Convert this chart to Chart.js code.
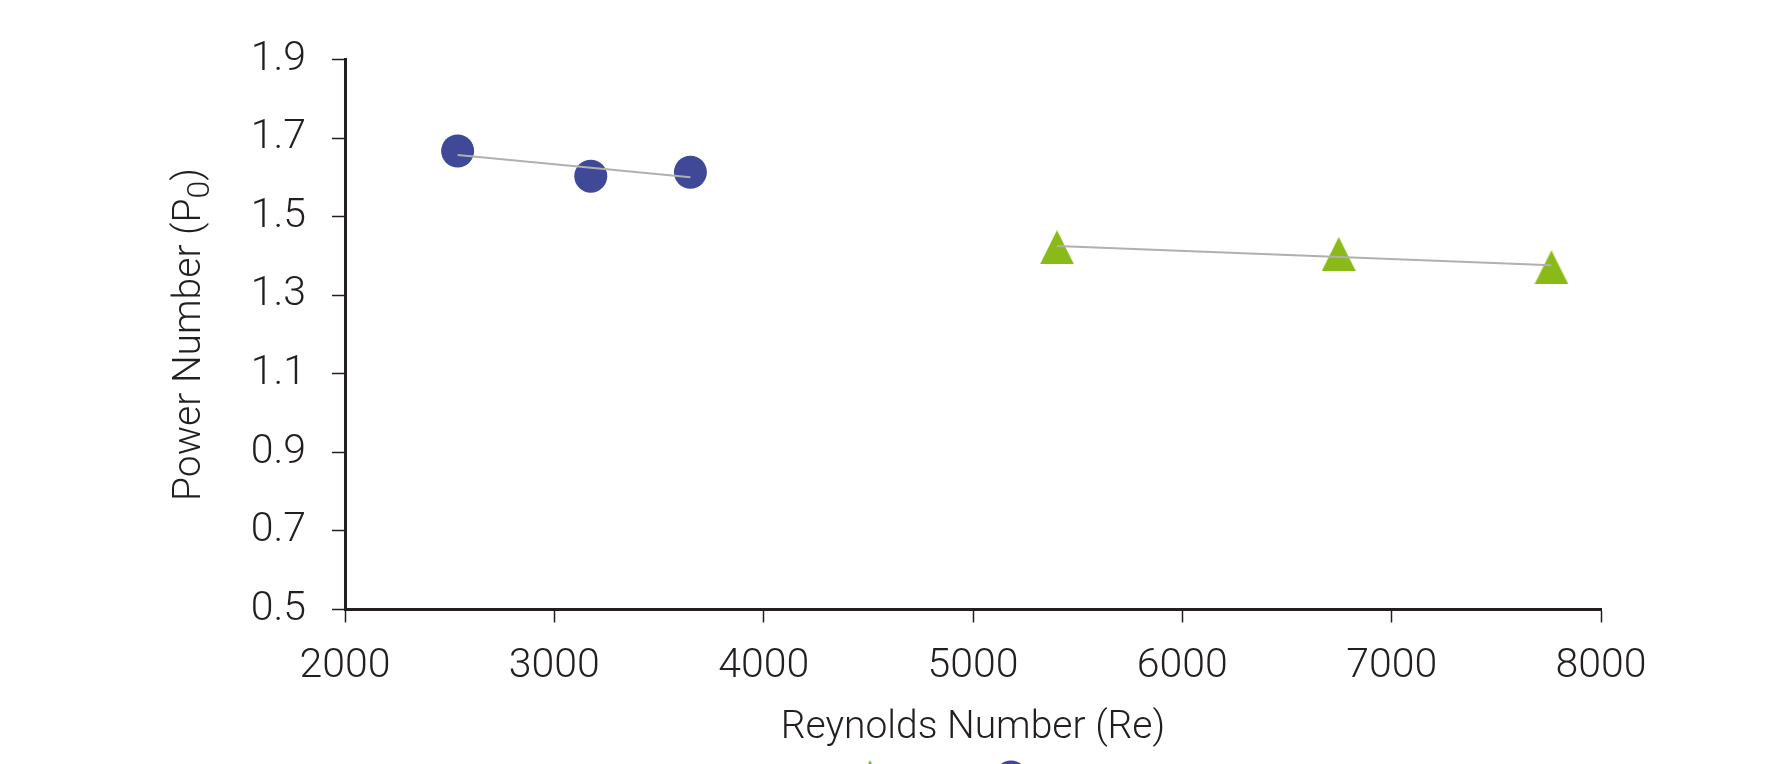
<!DOCTYPE html>
<html>
<head>
<meta charset="utf-8">
<title>Power Number vs Reynolds Number</title>
<script src="https://cdn.jsdelivr.net/npm/chart.js@4/dist/chart.umd.min.js"></script>
<style>
  html, body { margin: 0; padding: 0; background: #ffffff; overflow: hidden; }
  #wrap { width: 1788px; height: 764px; }
</style>
</head>
<body>
<div id="wrap"><canvas id="chart" width="1788" height="764"></canvas></div>
<script>
// Measured points: Reynolds number and power number for each run
const reCircle = [2538, 3174, 3650];
const poCircle = [1.667, 1.603, 1.613];
const reTriangle = [5401, 6747, 7763];
const poTriangle = [1.422, 1.405, 1.371];

// Linear trend line end points for each group
const trendCircleRe = [2538, 3650];
const trendCirclePo = [1.657, 1.600];
const trendTriangleRe = [5401, 7763];
const trendTrianglePo = [1.425, 1.376];

// Axis ticks
const xTicks = [2000, 3000, 4000, 5000, 6000, 7000, 8000];
const yTicks = [0.5, 0.7, 0.9, 1.1, 1.3, 1.5, 1.7, 1.9];

const seriesNames = ['Series 1', 'Series 2'];

const BLUE = 'rgb(63,73,151)';
const GREEN = 'rgb(138,186,24)';
const TREND = '#b0b0b0';
const INK = '#231f20';
const FONT = 'Roboto, "Liberation Sans", Arial, sans-serif';
const TICK_SIZE = 41;
const TITLE_SIZE = 39;

const pairs = (xs, ys) => xs.map((x, i) => ({ x: x, y: ys[i] }));

// Upright isosceles triangle marker
function triangleMarker(size, color) {
  const c = document.createElement('canvas');
  c.width = size; c.height = size;
  const g = c.getContext('2d');
  g.fillStyle = color;
  g.beginPath();
  g.moveTo(size / 2, 0);
  g.lineTo(size, size);
  g.lineTo(0, size);
  g.closePath();
  g.fill();
  return c;
}
const triMarker = triangleMarker(34, GREEN);

// Rotated y-axis title with subscript
const yTitlePlugin = {
  id: 'yTitleSub',
  afterDraw(chart) {
    const ctx = chart.ctx;
    const area = chart.chartArea;
    const cx = area.left - 145;
    const cy = (area.top + area.bottom) / 2;
    const main = '300 ' + TITLE_SIZE + 'px ' + FONT;
    const sub = '300 ' + Math.round(TITLE_SIZE * 0.82) + 'px ' + FONT;
    const parts = [
      { t: 'Power Number (P', f: main, dy: 0 },
      { t: '0', f: sub, dy: 9 },
      { t: ')', f: main, dy: 0 }
    ];
    ctx.save();
    let total = 0;
    parts.forEach(p => { ctx.font = p.f; p.w = ctx.measureText(p.t).width; total += p.w; });
    ctx.translate(cx, cy);
    ctx.rotate(-Math.PI / 2);
    ctx.fillStyle = INK;
    ctx.textBaseline = 'alphabetic';
    ctx.textAlign = 'left';
    let x = -total / 2;
    parts.forEach(p => { ctx.font = p.f; ctx.fillText(p.t, x, p.dy); x += p.w; });
    ctx.restore();
  }
};

// Legend row under the axis title
const legendPlugin = {
  id: 'bottomLegend',
  afterDraw(chart) {
    const ctx = chart.ctx;
    const area = chart.chartArea;
    const mid = (area.left + area.right) / 2;
    const y = chart.height + 13;
    const items = [
      { x: mid - 103, style: triMarker, color: GREEN, label: seriesNames[1] },
      { x: mid + 38, style: 'circle', color: BLUE, label: seriesNames[0] }
    ];
    ctx.save();
    items.forEach(it => {
      ctx.fillStyle = it.color;
      Chart.helpers.drawPoint(ctx, { pointStyle: it.style, radius: 16.5, rotation: 0, borderWidth: 0 }, it.x, y);
      ctx.fillStyle = INK;
      ctx.font = '300 ' + TITLE_SIZE + 'px ' + FONT;
      ctx.textBaseline = 'middle';
      ctx.fillText(it.label, it.x + 30, y + 20);
    });
    ctx.restore();
  }
};

new Chart(document.getElementById('chart'), {
  type: 'scatter',
  data: {
    datasets: [
      {
        label: 'trend-1',
        type: 'line',
        data: pairs(trendCircleRe, trendCirclePo),
        borderColor: TREND,
        borderWidth: 2,
        pointRadius: 0,
        fill: false,
        order: 0
      },
      {
        label: 'trend-2',
        type: 'line',
        data: pairs(trendTriangleRe, trendTrianglePo),
        borderColor: TREND,
        borderWidth: 2,
        pointRadius: 0,
        fill: false,
        order: 0
      },
      {
        label: seriesNames[0],
        data: pairs(reCircle, poCircle),
        pointStyle: 'circle',
        pointRadius: 16.5,
        pointHoverRadius: 16.5,
        backgroundColor: BLUE,
        borderWidth: 0,
        order: 1
      },
      {
        label: seriesNames[1],
        data: pairs(reTriangle, poTriangle),
        pointStyle: triMarker,
        pointRadius: 17,
        backgroundColor: GREEN,
        borderWidth: 0,
        order: 1
      }
    ]
  },
  options: {
    responsive: false,
    animation: false,
    devicePixelRatio: 1,
    layout: { padding: { left: 0, top: 59.5, right: 187, bottom: 0 } },
    plugins: {
      legend: { display: false },
      tooltip: { enabled: false }
    },
    scales: {
      x: {
        type: 'linear',
        min: xTicks[0],
        max: xTicks[xTicks.length - 1],
        afterBuildTicks(scale) { scale.ticks = xTicks.map(v => ({ value: v })); },
        afterFit(scale) { scale.height = 154.5; },
        border: { display: true, color: INK, width: 3 },
        grid: { drawOnChartArea: false, drawTicks: true, tickLength: 13, tickWidth: 1.5, tickColor: INK },
        ticks: {
          color: INK,
          padding: 20,
          font: { family: FONT, size: TICK_SIZE, weight: '300' },
          maxRotation: 0,
          callback: v => String(v)
        },
        title: {
          display: true,
          text: 'Reynolds Number (Re)',
          color: INK,
          font: { family: FONT, size: TITLE_SIZE, weight: '300' },
          padding: { top: 0, bottom: 12 }
        }
      },
      y: {
        type: 'linear',
        min: yTicks[0],
        max: yTicks[yTicks.length - 1],
        afterBuildTicks(scale) { scale.ticks = yTicks.map(v => ({ value: v })); },
        afterFit(scale) { scale.width = 345; },
        border: { display: true, color: INK, width: 3 },
        grid: { drawOnChartArea: false, drawTicks: true, tickLength: 13, tickWidth: 1.5, tickColor: INK },
        ticks: {
          color: INK,
          padding: 26,
          font: { family: FONT, size: TICK_SIZE, weight: '300' },
          callback: v => v.toFixed(1)
        }
      }
    }
  },
  plugins: [yTitlePlugin, legendPlugin]
});
</script>
</body>
</html>
